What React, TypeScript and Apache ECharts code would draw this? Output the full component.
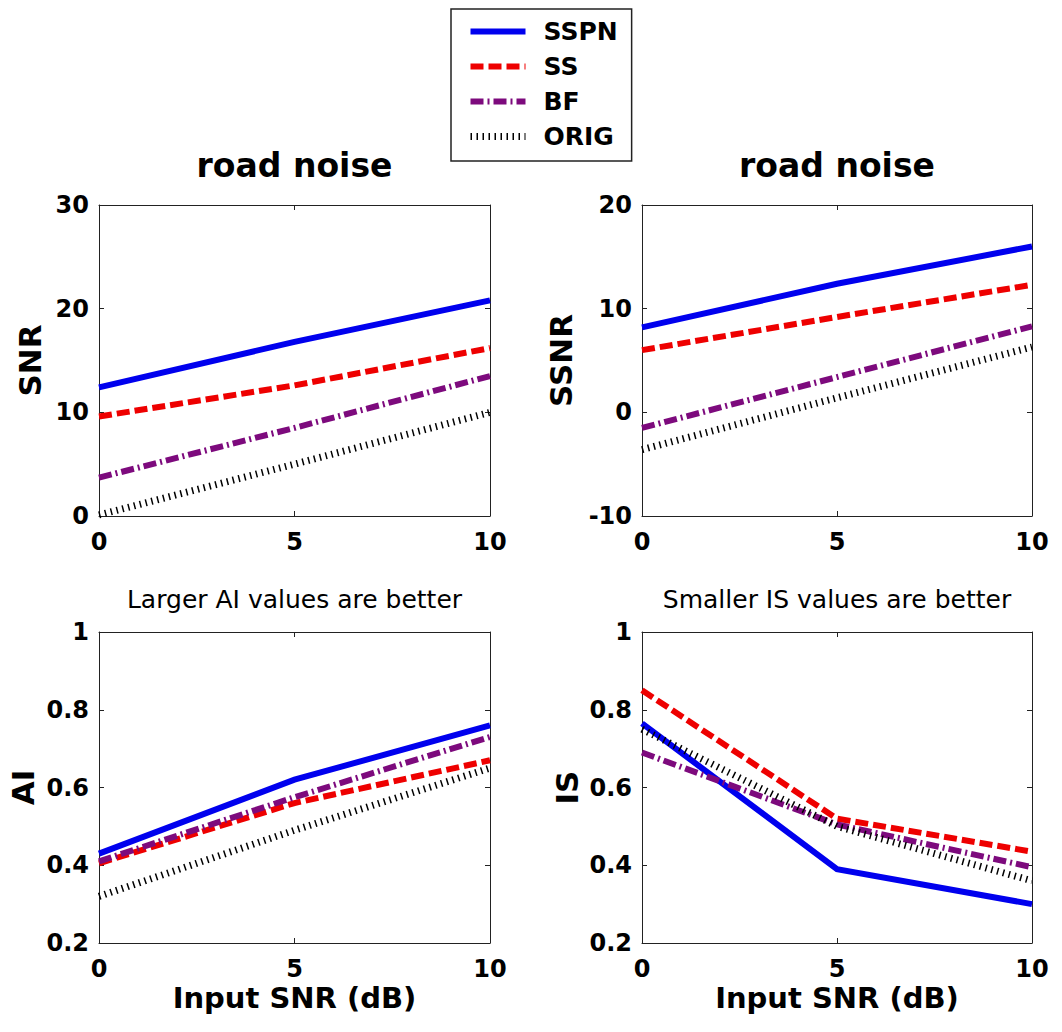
import React, { useEffect, useRef } from 'react';
import * as echarts from 'echarts';

// ---------- data ----------
const inputSnr = [0, 5, 10];
const methods = ['SSPN', 'SS', 'BF', 'ORIG'];

const snrSSPN = [12.4, 16.8, 20.8];
const snrSS = [9.6, 12.6, 16.2];
const snrBF = [3.7, 8.5, 13.5];
const snrORIG = [0.1, 5.0, 10.0];

const ssnrSSPN = [8.2, 12.4, 16.0];
const ssnrSS = [6.0, 9.2, 12.3];
const ssnrBF = [-1.5, 3.4, 8.3];
const ssnrORIG = [-3.6, 1.4, 6.3];

const aiSSPN = [0.43, 0.62, 0.76];
const aiSS = [0.405, 0.56, 0.67];
const aiBF = [0.41, 0.575, 0.73];
const aiORIG = [0.32, 0.49, 0.65];

const isSSPN = [0.765, 0.39, 0.3];
const isSS = [0.85, 0.52, 0.435];
const isBF = [0.69, 0.505, 0.395];
const isORIG = [0.75, 0.5, 0.36];

const snrTicks = [0, 10, 20, 30];
const ssnrTicks = [-10, 0, 10, 20];
const aiTicks = [0.2, 0.4, 0.6, 0.8, 1];
const isTicks = [0.2, 0.4, 0.6, 0.8, 1];
const xTicks = [0, 5, 10];

const panelTitles = ['road noise', 'road noise', 'Larger AI values are better', 'Smaller IS values are better'];
const yNames = ['SNR', 'SSNR', 'AI', 'IS'];
const xName = 'Input SNR (dB)';

// ---------- styles ----------
const FONT = 'DejaVu Sans';
const AXIS_COLOR = '#222';
const lineStyles = [
  { color: '#0000ee', width: 6, type: 'solid' },
  { color: '#ee0000', width: 6, type: [13, 5] },
  { color: '#7d0a7d', width: 6, type: [13, 4, 2, 4] },
  { color: '#000000', width: 7, type: [1.5, 4.5] },
];

const grids = [
  { left: 99, top: 205, width: 391, height: 311 },
  { left: 642, top: 205, width: 390, height: 311 },
  { left: 99, top: 632, width: 391, height: 311 },
  { left: 642, top: 632, width: 390, height: 311 },
];
const yNameGaps = [54, 66, 61, 60];

function buildOption() {
  const panelData = [
    [snrSSPN, snrSS, snrBF, snrORIG],
    [ssnrSSPN, ssnrSS, ssnrBF, ssnrORIG],
    [aiSSPN, aiSS, aiBF, aiORIG],
    [isSSPN, isSS, isBF, isORIG],
  ];
  const yTicks = [snrTicks, ssnrTicks, aiTicks, isTicks];

  const tickLabel = { fontFamily: FONT, fontWeight: 'bold', fontSize: 24, color: '#000' };
  const axisLine = { show: true, onZero: false, lineStyle: { color: AXIS_COLOR, width: 1 } };
  const axisTick = { show: true, inside: true, length: 5, lineStyle: { color: AXIS_COLOR, width: 1 } };

  const xAxis: any[] = [];
  const yAxis: any[] = [];
  const series: any[] = [];
  const title: any[] = [];

  grids.forEach((g, i) => {
    const yt = yTicks[i];
    const yMin = yt[0];
    const yMax = yt[yt.length - 1];
    const yInt = +(yt[1] - yt[0]).toFixed(6);
    const isBottom = i >= 2;
    xAxis.push({
      gridIndex: i, type: 'value', position: 'bottom',
      min: xTicks[0], max: xTicks[xTicks.length - 1], interval: xTicks[1] - xTicks[0],
      axisLine, axisTick, splitLine: { show: false },
      axisLabel: { ...tickLabel, margin: 14 },
      name: isBottom ? xName : '',
      nameLocation: 'middle', nameGap: 40,
      nameTextStyle: { fontFamily: FONT, fontWeight: 'bold', fontSize: 29, color: '#000' },
    });
    xAxis.push({
      gridIndex: i, type: 'value', position: 'top',
      min: xTicks[0], max: xTicks[xTicks.length - 1], interval: xTicks[1] - xTicks[0],
      axisLine, axisTick, splitLine: { show: false }, axisLabel: { show: false },
    });
    yAxis.push({
      gridIndex: i, type: 'value', position: 'left',
      min: yMin, max: yMax, interval: yInt,
      axisLine, axisTick, splitLine: { show: false },
      axisLabel: { ...tickLabel, margin: 10 },
      name: yNames[i], nameLocation: 'middle', nameGap: yNameGaps[i],
      nameTextStyle: { fontFamily: FONT, fontWeight: 'bold', fontSize: 31, color: '#000' },
    });
    yAxis.push({
      gridIndex: i, type: 'value', position: 'right',
      min: yMin, max: yMax, interval: yInt,
      axisLine, axisTick, splitLine: { show: false }, axisLabel: { show: false },
    });

    panelData[i].forEach((vals, k) => {
      series.push({
        name: methods[k], type: 'line',
        xAxisIndex: 2 * i, yAxisIndex: 2 * i,
        data: inputSnr.map((x, j) => [x, vals[j]]),
        symbol: 'none', showSymbol: false,
        lineStyle: { ...lineStyles[k], cap: 'butt', join: 'miter' },
        itemStyle: { color: lineStyles[k].color },
        color: lineStyles[k].color,
        silent: true,
      });
    });

    const cx = g.left + g.width / 2;
    title.push({
      text: panelTitles[i],
      left: cx, textAlign: 'center',
      top: isBottom ? 587 : 149,
      padding: 0,
      textStyle: isBottom
        ? { fontFamily: FONT, fontWeight: 'normal', fontSize: 25, color: '#000' }
        : { fontFamily: FONT, fontWeight: 'bold', fontSize: 33, color: '#000' },
    });
  });

  return {
    animation: false,
    backgroundColor: '#fff',
    title,
    legend: {
      data: methods,
      orient: 'vertical',
      left: 451, top: 9,
      padding: [10, 14, 12, 16],
      itemWidth: 55, itemHeight: 14, itemGap: 10,
      backgroundColor: '#fff',
      borderColor: AXIS_COLOR, borderWidth: 1.5,
      selectedMode: false,
      itemStyle: { opacity: 0, borderWidth: 0 },
      lineStyle: { width: 'inherit' },
      textStyle: { fontFamily: FONT, fontWeight: 'bold', fontSize: 25, color: '#000', padding: [0, 0, 0, 13] },
    },
    grid: grids.map((g) => ({ ...g, containLabel: false })),
    xAxis, yAxis, series,
  };
}

export default function App() {
  const ref = useRef<HTMLDivElement>(null);
  useEffect(() => {
    document.body.style.margin = '0';
    if (!ref.current) return;
    const chart = echarts.init(ref.current, undefined, { renderer: 'svg' });
    chart.setOption(buildOption() as any);
    return () => chart.dispose();
  }, []);
  return <div ref={ref} style={{ width: 1062, height: 1032 }} />;
}
